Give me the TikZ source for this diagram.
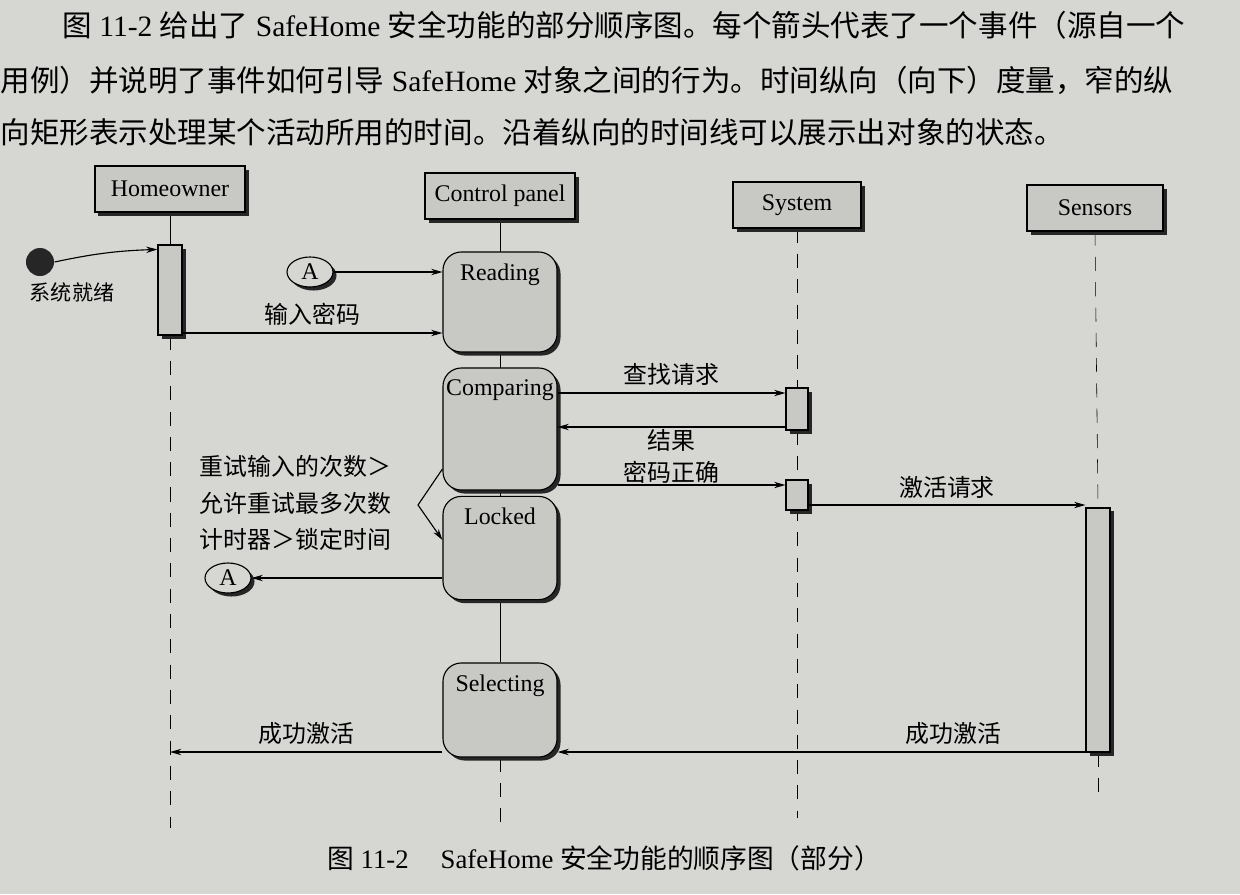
\documentclass[tikz,border=0pt]{standalone}
\usepackage{fontspec}
\setmainfont{Liberation Serif}
\newfontfamily\cjk{Noto Sans CJK SC}
\usetikzlibrary{arrows.meta,shapes.geometric,shadows,calc,backgrounds}
\definecolor{paper}{RGB}{214,214,211}
\definecolor{boxfill}{RGB}{200,200,197}

\begin{document}
\begin{tikzpicture}[x={(0.025cm,0)}, y={(0,-0.025cm)}, >={Stealth[length=8pt,width=4.5pt]},
  line width=0.8pt,
  every node/.style={font=\fontsize{17}{20}\selectfont},
  boxshadow/.style={drop shadow={shadow xshift=2.5pt, shadow yshift=-2.5pt, fill=black!85, opacity=1}},
  hdr/.style={draw, fill=boxfill, boxshadow, minimum height=1.15cm, inner sep=2pt},
  bar/.style={draw, fill=boxfill, boxshadow, minimum width=0.6cm, inner sep=0pt},
  state/.style={draw, fill=boxfill, boxshadow, rounded corners=13pt, minimum width=2.85cm, inner sep=0pt},
  conn/.style={draw, fill=paper, ellipse, boxshadow, minimum width=1.15cm, minimum height=0.75cm, inner sep=0pt},
  life/.style={dash pattern=on 10pt off 8pt},
  msg/.style={->},
  zh/.style={font=\fontsize{17}{26}\selectfont\cjk, inner sep=1pt}]

  \useasboundingbox (0,0) rectangle (1240,894);

  % Text above the figure
  \node[anchor=west, inner sep=0, font=\fontsize{21}{24}\selectfont] (par1) at (62,25)
    {{\cjk 图} 11-2 {\cjk 给出了} SafeHome {\cjk 安全功能的部分顺序图。每个箭头代表了一个事件（源自一个}};
  \node[anchor=west, inner sep=0, font=\fontsize{21}{24}\selectfont] (par2) at (0,80)
    {{\cjk 用例）并说明了事件如何引导} SafeHome {\cjk 对象之间的行为。时间纵向（向下）度量，窄的纵}};
  \node[anchor=west, inner sep=0, font=\fontsize{21}{24}\selectfont] (par3) at (0,132)
    {{\cjk 向矩形表示处理某个活动所用的时间。沿着纵向的时间线可以展示出对象的状态。}};

  % Objects
  \node[hdr, minimum width=3.75cm] (ho) at (170,189) {Homeowner};
  \node[hdr, minimum width=3.75cm] (cp) at (500,196) {Control panel};
  \node[hdr, minimum width=3.2cm] (sy) at (797,205) {System};
  \node[hdr, minimum width=3.4cm] (se) at (1095,208) {Sensors};

  % Activations
  \node[bar, minimum height=2.25cm] (hobar) at (170,290) {};
  \node[bar, minimum width=0.55cm, minimum height=1.05cm] (sybar1) at (797,409) {};
  \node[bar, minimum width=0.55cm, minimum height=0.75cm] (sybar2) at (797,495) {};
  \node[bar, minimum height=6.1cm] (sebar) at (1098,630) {};

  % States of the control panel
  \node[state, minimum height=2.5cm, label={[below=5pt]north:Reading}] (rd) at (500,302) {};
  \node[state, minimum height=3.05cm, label={[below=5pt]north:Comparing}] (cmp) at (500,429) {};
  \node[state, minimum height=2.58cm, label={[below=5pt]north:Locked}] (lck) at (500,548) {};
  \node[state, minimum height=2.35cm, label={[below=5pt]north:Selecting}] (sel) at (500,710) {};

  % Lifelines
  \coordinate (hoend) at (170,828);
  \coordinate (cpend) at (500,826);
  \coordinate (syend) at (797,818);
  \coordinate (seend) at (1098,800);
  \begin{scope}[on background layer]
    \fill[paper] (0,0) rectangle (1240,894);
    \draw (ho.south) -- (hobar.north);
    \draw[life] (hobar.south) -- (hoend);
    \draw (cp.south) -- (sel.north);
    \draw[life] (sel.south) -- (cpend);
    \draw[life] (sy.south) -- (syend);
    \draw[life] (se.south) -- (sebar.north);
    \draw[life] (sebar.south) -- (seend);
  \end{scope}

  % Start
  \node[circle, fill=black!85, minimum size=0.7cm, inner sep=0] (init) at (40,262) {};
  \node[zh, font=\fontsize{15}{18}\selectfont\cjk] (ready) at (72,292) {系统就绪};
  \draw[msg] (init.east) to[bend left=5] ($(hobar.north west)+(0,5)$);

  \node[conn] (a1) at (310,272) {A};
  \draw[msg] (a1) -- (rd.west |- a1);

  % Messages
  \coordinate (ypw) at (0,333);
  \coordinate (yreq) at (0,393);
  \coordinate (yres) at (0,427);
  \coordinate (yok) at (0,485);
  \coordinate (yact) at (0,505);
  \coordinate (ydone) at (0,752);
  \draw[msg] (hobar.east |- ypw) -- (rd.west |- ypw) node[midway, above=4pt, zh] {输入密码};
  \draw[msg] (cmp.east |- yreq) -- (sybar1.west |- yreq) node[midway, above=4pt, zh] {查找请求};
  \draw[msg] (sybar1.west |- yres) -- (cmp.east |- yres) node[midway, below=0pt, zh] {结果};
  \draw[msg] (cmp.east |- yok) -- (sybar2.west |- yok) node[midway, above=0pt, zh] {密码正确};
  \draw[msg] (sybar2.east |- yact) -- (sebar.west |- yact) node[midway, above=3pt, zh] {激活请求};
  \draw[msg] (sebar.west |- ydone) -- (sel.east |- ydone) node[pos=0.25, above=4pt, zh] {成功激活};
  \draw[msg] (sel.west |- ydone) -- (hoend |- ydone) node[midway, above=4pt, zh] {成功激活};

  % Locking
  \coordinate (kink) at (418,505);
  \draw[msg] ($(cmp.west)+(0,40)$) -- (kink) -- ($(lck.west)+(0,-8)$);
  \node[zh, anchor=west, align=left] (guard) at (198,503) {重试输入的次数＞\\允许重试最多次数\\计时器＞锁定时间};
  \node[conn] (a2) at (228,578) {A};
  \draw[msg] (lck.west |- a2) -- (a2);

  % Caption
  \node[font=\fontsize{19}{21}\selectfont] (cap) at (604,858)
    {{\cjk 图} 11-2\hspace{1.2em}SafeHome {\cjk 安全功能的顺序图（部分）}};
\end{tikzpicture}
\end{document}
